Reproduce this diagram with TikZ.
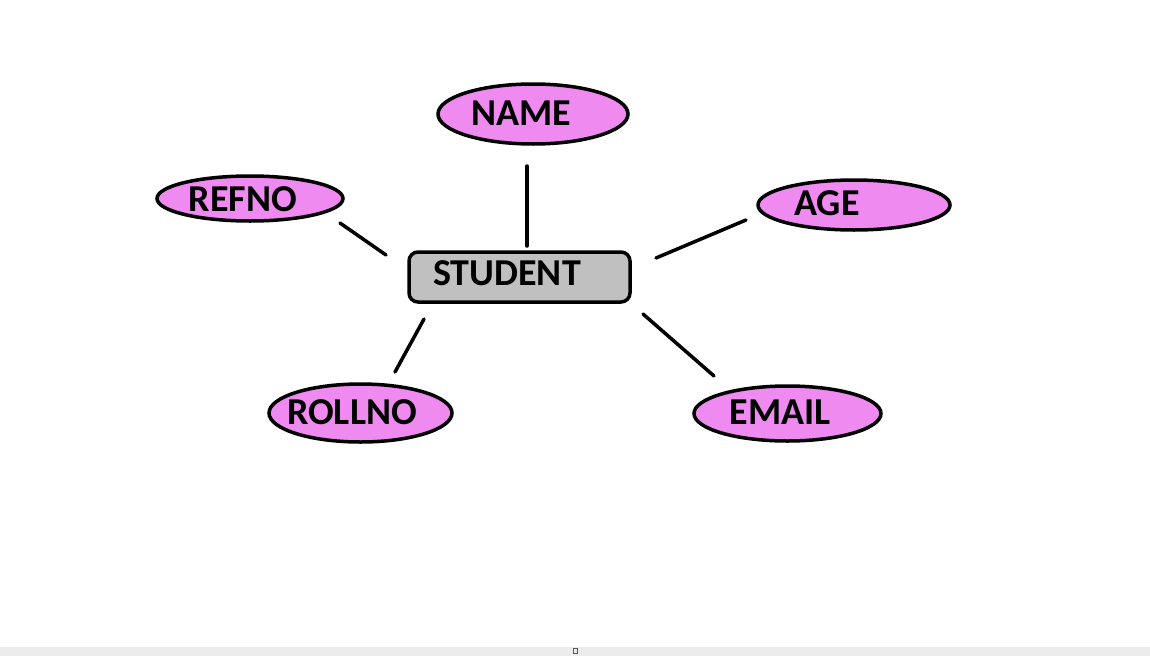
\documentclass[tikz,border=0pt]{standalone}
\usepackage{fontspec}
\setmainfont{Carlito}
\usetikzlibrary{shapes.geometric}
\definecolor{attrpink}{HTML}{EE8AF0}
\definecolor{entgray}{HTML}{C0C0C0}
\tikzset{
  attr/.style={ellipse, draw=black, line width=3.5pt, fill=attrpink, inner sep=0pt},
  ent/.style={rectangle, rounded corners=9pt, draw=black, line width=3.5pt, fill=entgray, inner sep=0pt},
  lbl/.style={font=\bfseries\fontsize{38}{40}\selectfont, text=black, inner sep=0pt, anchor=center},
  conn/.style={line width=3.5pt, line cap=round}
}
\begin{document}
\begin{tikzpicture}[x=1pt,y=-1pt]
\useasboundingbox (0,0) rectangle (1150,656);
\fill[white] (0,0) rectangle (1150,656);
\fill[gray!15] (0,647) rectangle (1150,656);
\draw[gray!70!black, line width=0.6pt] (573,648) rectangle (577,653);

% entity
\node[ent, minimum width=221pt, minimum height=50pt] (student) at (519.5,277) {};
\node[lbl] (student-t) at (507,273) {STUDENT};

% attributes
\node[attr, minimum width=190pt, minimum height=60pt] (name) at (533,114) {};
\node[lbl] (name-t) at (521,113) {NAME};

\node[attr, minimum width=186pt, minimum height=45pt] (refno) at (250,198.5) {};
\node[lbl] (refno-t) at (243,199) {REFNO};

\node[attr, minimum width=192pt, minimum height=50pt] (age) at (854,205) {};
\node[lbl] (age-t) at (827,203) {AGE};

\node[attr, minimum width=183pt, minimum height=58pt] (rollno) at (360.5,413) {};
\node[lbl] (rollno-t) at (352,412) {ROLLNO};

\node[attr, minimum width=187pt, minimum height=55pt] (email) at (787.5,413.5) {};
\node[lbl] (email-t) at (780,412) {EMAIL};

% connector end points (lines stop short of the shapes)
\coordinate (c-name-a) at (527,166);
\coordinate (c-name-b) at (527,246);
\coordinate (c-refno-a) at (340,223);
\coordinate (c-refno-b) at (386,255);
\coordinate (c-age-a) at (746,220);
\coordinate (c-age-b) at (656,258);
\coordinate (c-roll-a) at (424,319);
\coordinate (c-roll-b) at (395,372);
\coordinate (c-email-a) at (643,314);
\coordinate (c-email-b) at (714,376);

\draw[conn] (c-name-a) -- (c-name-b);
\draw[conn] (c-refno-a) -- (c-refno-b);
\draw[conn] (c-age-a) -- (c-age-b);
\draw[conn] (c-roll-a) -- (c-roll-b);
\draw[conn] (c-email-a) -- (c-email-b);
\end{tikzpicture}
\end{document}
